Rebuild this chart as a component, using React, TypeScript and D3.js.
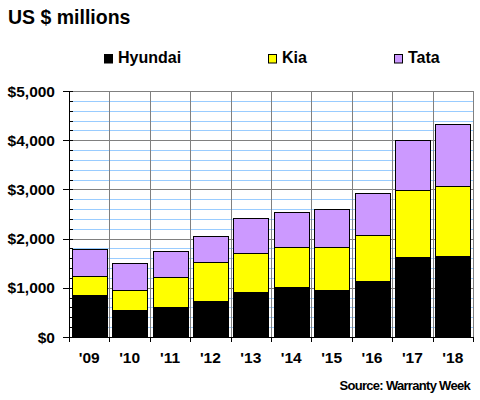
import React from "react";
import * as d3 from "d3";

const years = ["'09", "'10", "'11", "'12", "'13", "'14", "'15", "'16", "'17", "'18"];
const hyundai = [857, 551, 612, 735, 918, 1020, 959, 1143, 1633, 1653];
const kia = [381, 401, 606, 789, 789, 810, 871, 932, 1360, 1422];
const tata = [551, 551, 537, 530, 715, 714, 775, 857, 1021, 1245];
const seriesNames = ["Hyundai", "Kia", "Tata"];
const seriesColors = ["#000000", "#ffff00", "#cc99ff"];
const yTicks = [0, 1000, 2000, 3000, 4000, 5000];

const FONT = "'Liberation Sans', Arial, sans-serif";

export default function App() {
  const left = 69, right = 473, top = 91, bottom = 337;
  const x = d3.scaleBand<string>().domain(years).range([left, right]).paddingInner(0.135).paddingOuter(0.0675);
  const xb = d3.scaleLinear().domain([0, years.length]).range([left, right]);
  const y = d3.scaleLinear().domain([0, 5000]).range([bottom, top]);

  const table = years.map((yr, i) => ({ yr, Hyundai: hyundai[i], Kia: kia[i], Tata: tata[i] }));
  const stacked = d3.stack<any>().keys(seriesNames)(table);

  const minor = d3.range(200, 5000, 200).filter((v) => v % 1000 !== 0);
  const major = [1000, 2000, 3000, 4000, 5000];
  const legendX = [104, 268, 394];

  return (
    <svg width={480} height={400} style={{ position: "absolute", left: 0, top: 0, background: "#fff" }} fontFamily={FONT}>
      <rect x={0} y={0} width={480} height={400} fill="#fff" />
      <text x={8} y={24} fontSize={19.5} fontWeight="bold">US $ millions</text>
      {seriesNames.map((s, i) => (
        <g key={s}>
          <rect x={legendX[i] + 0.5} y={54.5} width={8} height={8.5} fill={seriesColors[i]} stroke="#000" strokeWidth={1} />
          <text x={legendX[i] + 14} y={63} fontSize={16} fontWeight="bold">{s}</text>
        </g>
      ))}
      {/* grid */}
      {minor.map((v) => (
        <line key={"m" + v} x1={left} x2={right} y1={Math.round(y(v)) + 0.5} y2={Math.round(y(v)) + 0.5} stroke="#99ccff" strokeWidth={1} />
      ))}
      {major.map((v) => (
        <line key={"M" + v} x1={left} x2={right} y1={Math.round(y(v)) + 0.5} y2={Math.round(y(v)) + 0.5} stroke="#808080" strokeWidth={1} />
      ))}
      {d3.range(1, years.length + 1).map((k) => (
        <line key={"v" + k} x1={Math.round(xb(k)) + 0.5} x2={Math.round(xb(k)) + 0.5} y1={top} y2={bottom} stroke="#808080" strokeWidth={1} />
      ))}
      {/* bars */}
      {stacked.map((layer, si) => (
        <g key={layer.key}>
          {layer.map((d, i) => (
            <rect
              key={i}
              x={Math.round(x(years[i])!) + 0.5}
              y={Math.round(y(d[1])) + 0.5}
              width={Math.round(x.bandwidth())}
              height={Math.round(y(d[0])) - Math.round(y(d[1]))}
              fill={seriesColors[si]}
              stroke="#000"
              strokeWidth={1}
            />
          ))}
        </g>
      ))}
      {/* axes */}
      <line x1={left + 0.5} x2={left + 0.5} y1={top} y2={bottom + 5} stroke="#000" strokeWidth={1} />
      <line x1={left - 6} x2={right + 1} y1={bottom + 0.5} y2={bottom + 0.5} stroke="#000" strokeWidth={1} />
      {yTicks.map((v) => (
        <line key={"t" + v} x1={left - 6} x2={left + 4} y1={Math.round(y(v)) + 0.5} y2={Math.round(y(v)) + 0.5} stroke="#000" strokeWidth={1} />
      ))}
      {minor.map((v) => (
        <line key={"mt" + v} x1={left} x2={left + 4} y1={Math.round(y(v)) + 0.5} y2={Math.round(y(v)) + 0.5} stroke="#000" strokeWidth={1} />
      ))}
      {d3.range(1, years.length + 1).map((k) => (
        <line key={"xt" + k} x1={Math.round(xb(k)) + 0.5} x2={Math.round(xb(k)) + 0.5} y1={bottom} y2={bottom + 5} stroke="#000" strokeWidth={1} />
      ))}
      {yTicks.map((v) => (
        <text key={"yl" + v} x={55} y={y(v)} dy="0.36em" textAnchor="end" fontSize={15.5} fontWeight="bold">
          {"$" + d3.format(",")(v)}
        </text>
      ))}
      {years.map((yr) => (
        <text key={"xl" + yr} x={x(yr)! + x.bandwidth() / 2} y={363} textAnchor="middle" fontSize={15.5} fontWeight="bold">
          {yr}
        </text>
      ))}
      <text x={470} y={390} textAnchor="end" fontSize={13} fontWeight="bold" letterSpacing={-0.7}>
        Source: Warranty Week
      </text>
    </svg>
  );
}
